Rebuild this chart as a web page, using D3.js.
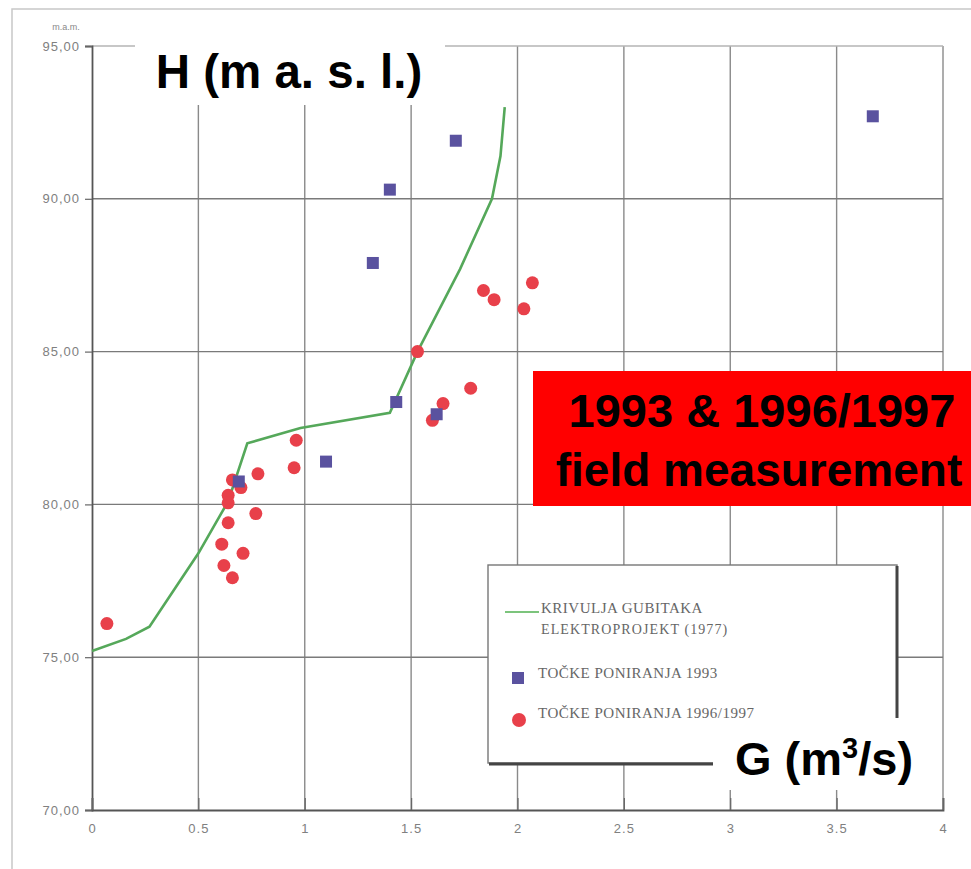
<!DOCTYPE html>
<html>
<head>
<meta charset="utf-8">
<script src="https://cdn.jsdelivr.net/npm/d3@7"></script>
<style>
  body { margin: 0; background: #fff; }
  svg { display: block; }
</style>
</head>
<body>
<div id="chart"></div>
<script>
const WIDTH = 971
const HEIGHT = 869
const PLOT = { LEFT: 92, RIGHT: 943, TOP: 46, BOTTOM: 810 }

// green loss curve (Elektroprojekt 1977)
const curveG = [0, 0.16, 0.27, 0.5, 0.64, 0.73, 0.98, 1.4, 1.53, 1.73, 1.88, 1.92, 1.94]
const curveH = [75.2, 75.6, 76.0, 78.4, 80.1, 82.0, 82.5, 83.0, 85.0, 87.7, 90.0, 91.4, 93.0]

// sinking points 1993 (blue squares)
const pts1993G = [3.67, 1.71, 1.40, 1.32, 1.43, 1.62, 1.10, 0.69]
const pts1993H = [92.7, 91.9, 90.3, 87.9, 83.35, 82.95, 81.4, 80.75]

// sinking points 1996/1997 (red circles)
const pts1996G = [0.07, 0.96, 0.95, 0.78, 0.66, 0.70, 0.64, 0.64, 0.77, 0.64, 0.61, 0.71, 0.62, 0.66,
  1.53, 1.84, 1.89, 2.07, 2.03, 1.78, 1.65, 1.60]
const pts1996H = [76.1, 82.1, 81.2, 81.0, 80.8, 80.55, 80.3, 80.05, 79.7, 79.4, 78.7, 78.4, 78.0, 77.6,
  85.0, 87.0, 86.7, 87.25, 86.4, 83.8, 83.3, 82.75]

const xTicks = [0, 0.5, 1, 1.5, 2, 2.5, 3, 3.5, 4]
const yTicks = [70, 75, 80, 85, 90, 95]

const legendLabels = [
  ["KRIVULJA GUBITAKA", "ELEKTROPROJEKT (1977)"],
  ["TOČKE PONIRANJA 1993"],
  ["TOČKE PONIRANJA 1996/1997"]
]

const svg = d3.select("#chart")
  .append("svg")
    .attr("width", WIDTH)
    .attr("height", HEIGHT)

svg.append("rect")
  .attr("width", WIDTH).attr("height", HEIGHT)
  .attr("fill", "#fff")

// scanned page frame
svg.append("rect")
  .attr("x", 12).attr("y", 9)
  .attr("width", 1100).attr("height", 1100)
  .attr("fill", "none")
  .attr("stroke", "#c8c8c8")
  .attr("stroke-width", 1.5)

const x = d3.scaleLinear().domain([0, 4]).range([PLOT.LEFT, PLOT.RIGHT])
const y = d3.scaleLinear().domain([70, 95]).range([PLOT.BOTTOM, PLOT.TOP])

// grid
const grid = svg.append("g")
grid.selectAll(".vg").data(xTicks.slice(1))
  .enter().append("line")
    .attr("x1", d => x(d)).attr("x2", d => x(d))
    .attr("y1", y(95)).attr("y2", y(70))
    .attr("stroke", "#8a8a8a")
    .attr("stroke-width", 1.4)
grid.selectAll(".hg").data(yTicks.slice(1))
  .enter().append("line")
    .attr("x1", x(0)).attr("x2", x(4))
    .attr("y1", d => y(d)).attr("y2", d => y(d))
    .attr("stroke", d => d === 95 ? "#b5b5b5" : "#7a7a7a")
    .attr("stroke-width", 1.4)

// axes
const yAxis = svg.append("g")
  .attr("transform", `translate(${PLOT.LEFT}, 0)`)
  .call(d3.axisLeft(y).tickValues(yTicks)
    .tickFormat(d => d.toFixed(2).replace(".", ","))
    .tickSize(7).tickPadding(5))
yAxis.select(".domain").attr("stroke", "#555").attr("stroke-width", 1.8)

const xAxis = svg.append("g")
  .attr("transform", `translate(0, ${PLOT.BOTTOM})`)
  .call(d3.axisBottom(x).tickValues(xTicks)
    .tickFormat(d => String(d))
    .tickSize(-12).tickPadding(14))
xAxis.select(".domain").attr("stroke", "#555").attr("stroke-width", 1.8)

svg.selectAll(".tick line").attr("stroke", "#666").attr("stroke-width", 1.2)
svg.selectAll(".tick text")
  .attr("fill", "#808080")
  .attr("font-family", "'Liberation Sans', Arial, sans-serif")
  .attr("font-size", 13)
  .attr("letter-spacing", 1)

svg.append("text")
  .attr("x", 66).attr("y", 30)
  .attr("text-anchor", "middle")
  .attr("font-family", "'Liberation Sans Narrow', sans-serif")
  .attr("font-size", 9)
  .attr("fill", "#888")
  .text("m.a.m.")

// loss curve
const line = d3.line()
  .x((d, i) => x(curveG[i]))
  .y((d, i) => y(curveH[i]))

svg.append("path")
  .datum(curveG)
  .attr("d", line)
  .attr("fill", "none")
  .attr("stroke", "#55a85a")
  .attr("stroke-width", 2.6)

// points
svg.append("g").selectAll("circle").data(pts1996G)
  .enter().append("circle")
    .attr("cx", d => x(d))
    .attr("cy", (d, i) => y(pts1996H[i]))
    .attr("r", 6.5)
    .attr("fill", "#e8404a")

svg.append("g").selectAll("rect").data(pts1993G)
  .enter().append("rect")
    .attr("x", d => x(d) - 6)
    .attr("y", (d, i) => y(pts1993H[i]) - 6)
    .attr("width", 12).attr("height", 12)
    .attr("fill", "#5a529f")

// legend
const lg = svg.append("g")
lg.append("rect")
  .attr("x", 488).attr("y", 565)
  .attr("width", 409).attr("height", 198)
  .attr("fill", "#fff")
  .attr("stroke", "#777")
  .attr("stroke-width", 1.4)
lg.append("path")
  .attr("d", "M 897 566 V 764 H 489")
  .attr("fill", "none")
  .attr("stroke", "#444")
  .attr("stroke-width", 3)

lg.append("line")
  .attr("x1", 505).attr("x2", 539)
  .attr("y1", 612).attr("y2", 612)
  .attr("stroke", "#7cc47c")
  .attr("stroke-width", 2)
lg.append("rect")
  .attr("x", 512).attr("y", 672)
  .attr("width", 12).attr("height", 12)
  .attr("fill", "#5a529f")
lg.append("circle")
  .attr("cx", 519).attr("cy", 720)
  .attr("r", 7)
  .attr("fill", "#e8404a")

const legendText = lg.append("g")
  .attr("font-family", "'Liberation Serif', 'DejaVu Serif', serif")
  .attr("fill", "#666")
legendText.append("text").attr("x", 541).attr("y", 613)
  .attr("font-size", 15).attr("letter-spacing", 0.5).text(legendLabels[0][0])
legendText.append("text").attr("x", 541).attr("y", 634)
  .attr("font-size", 14).attr("letter-spacing", 1.1).text(legendLabels[0][1])
legendText.append("text").attr("x", 538).attr("y", 678)
  .attr("font-size", 15).attr("letter-spacing", 0.5).text(legendLabels[1][0])
legendText.append("text").attr("x", 538).attr("y", 718)
  .attr("font-size", 15).attr("letter-spacing", 0.5).text(legendLabels[2][0])

// annotation labels
svg.append("rect")
  .attr("x", 135).attr("y", 30)
  .attr("width", 310).attr("height", 75)
  .attr("fill", "#fff")
svg.append("text")
  .attr("x", 289).attr("y", 88)
  .attr("text-anchor", "middle")
  .attr("font-family", "'Liberation Sans', Arial, sans-serif")
  .attr("font-weight", "bold")
  .attr("font-size", 47.5)
  .attr("fill", "#000")
  .text("H (m a. s. l.)")

svg.append("rect")
  .attr("x", 713).attr("y", 718)
  .attr("width", 225).attr("height", 72)
  .attr("fill", "#fff")
const gLabel = svg.append("text")
  .attr("x", 735).attr("y", 775)
  .attr("font-family", "'Liberation Sans', Arial, sans-serif")
  .attr("font-weight", "bold")
  .attr("font-size", 47)
  .attr("fill", "#000")
gLabel.append("tspan").text("G (m")
gLabel.append("tspan").attr("font-size", 29).attr("dy", -17).text("3")
gLabel.append("tspan").attr("dy", 17).text("/s)")

svg.append("rect")
  .attr("x", 533).attr("y", 371)
  .attr("width", 460).attr("height", 135)
  .attr("fill", "#ff0000")
const boxText = svg.append("text")
  .attr("text-anchor", "middle")
  .attr("font-family", "'Liberation Sans', Arial, sans-serif")
  .attr("font-weight", "bold")
  .attr("font-size", 47)
  .attr("fill", "#000")
boxText.append("tspan").attr("x", 762).attr("y", 427).text("1993 & 1996/1997")
boxText.append("tspan").attr("x", 759).attr("y", 486).attr("font-size", 46).text("field measurement")
</script>
</body>
</html>
